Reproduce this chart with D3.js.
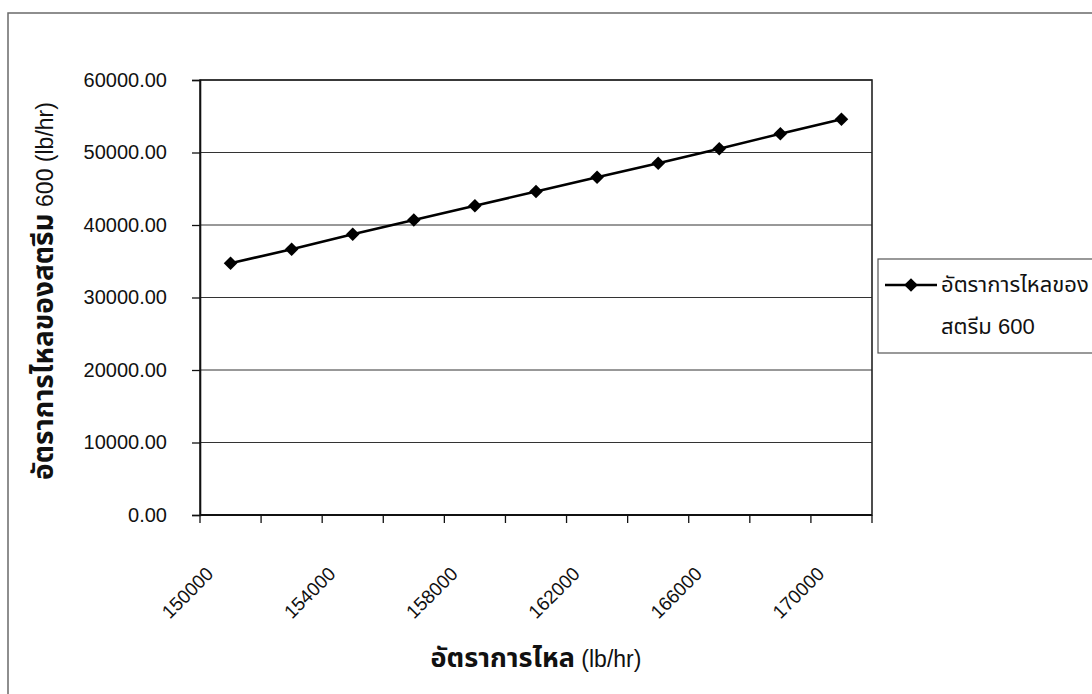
<!DOCTYPE html>
<html>
<head>
<meta charset="utf-8">
<script src="https://cdn.jsdelivr.net/npm/d3@7"></script>
<style>
  html, body { margin: 0; padding: 0; background: #fff; }
  svg { display: block; }
  text { font-family: "Liberation Sans", Arial, "Noto Sans Thai", "Loma", "Garuda", "Tlwg Typo", sans-serif; fill: #111; }
</style>
</head>
<body>
<svg id="chart" width="1092" height="694"></svg>
<script>
// Flow rate of the feed (lb/hr), one category per 2000 lb/hr
const categories = [150000, 152000, 154000, 156000, 158000, 160000, 162000, 164000, 166000, 168000, 170000];
// Flow rate of stream 600 (lb/hr)
const stream600 = [34720, 36650, 38720, 40690, 42660, 44620, 46580, 48510, 50520, 52590, 54580];
// Value-axis ticks
const yTicks = [0, 10000, 20000, 30000, 40000, 50000, 60000];
// Category labels shown on the axis (every other category)
const xTickLabels = [150000, 154000, 158000, 162000, 166000, 170000];

const seriesName = ["อัตราการไหลของ", "สตรีม 600"];

const svg = d3.select("#chart");
const W = 1092, H = 694;
const plot = { left: 200, top: 80, right: 872, bottom: 515 };

// outer chart frame
svg.append("rect")
  .attr("x", 8).attr("y", 13)
  .attr("width", W + 20).attr("height", H + 20)
  .attr("fill", "#fff").attr("stroke", "#6a6a6a").attr("stroke-width", 1.5);

const x = d3.scaleBand().domain(categories).range([plot.left, plot.right]).padding(0);
const y = d3.scaleLinear().domain([0, 60000]).range([plot.bottom, plot.top]);

// horizontal gridlines
svg.append("g")
  .selectAll("line")
  .data(yTicks)
  .join("line")
  .attr("x1", plot.left).attr("x2", plot.right)
  .attr("y1", d => y(d)).attr("y2", d => y(d))
  .attr("stroke", "#333").attr("stroke-width", 1);

// plot area border
svg.append("rect")
  .attr("x", plot.left).attr("y", plot.top)
  .attr("width", plot.right - plot.left).attr("height", plot.bottom - plot.top)
  .attr("fill", "none").attr("stroke", "#222").attr("stroke-width", 1.6);

// value axis
const yAxis = d3.axisLeft(y)
  .tickValues(yTicks)
  .tickFormat(d3.format(".2f"))
  .tickSize(8)
  .tickPadding(25);
const yg = svg.append("g").attr("transform", `translate(${plot.left},0)`).call(yAxis);
yg.select(".domain").attr("stroke", "#111").attr("stroke-width", 1.6);
yg.selectAll(".tick line").attr("stroke", "#111").attr("stroke-width", 1.3);
yg.selectAll(".tick text")
  .style("font-size", "20px")
  .attr("fill", "#222");

// category axis: tick marks on band boundaries
const boundaries = categories.map(c => x(c)).concat([x(categories[categories.length - 1]) + x.bandwidth()]);
svg.append("line")
  .attr("x1", plot.left).attr("x2", plot.right)
  .attr("y1", plot.bottom).attr("y2", plot.bottom)
  .attr("stroke", "#111").attr("stroke-width", 1.8);
svg.append("g")
  .selectAll("line")
  .data(boundaries)
  .join("line")
  .attr("x1", d => d).attr("x2", d => d)
  .attr("y1", plot.bottom).attr("y2", plot.bottom + 8)
  .attr("stroke", "#111").attr("stroke-width", 1.3);

// rotated category labels
svg.append("g")
  .selectAll("text")
  .data(xTickLabels)
  .join("text")
  .attr("transform", d => `translate(${x(d) + x.bandwidth() / 2 - 16},${plot.bottom + 60}) rotate(-45)`)
  .attr("text-anchor", "end")
  .style("font-size", "19px")
  .attr("fill", "#222")
  .text(d => d);

// series line and diamond markers
const line = d3.line()
  .x((d, i) => x(categories[i]) + x.bandwidth() / 2)
  .y(d => y(d));
svg.append("path")
  .datum(stream600)
  .attr("d", line)
  .attr("fill", "none").attr("stroke", "#000").attr("stroke-width", 2.6);

const diamond = d3.symbol().type(d3.symbolDiamond2).size(118);
svg.append("g")
  .selectAll("path")
  .data(stream600)
  .join("path")
  .attr("transform", (d, i) => `translate(${x(categories[i]) + x.bandwidth() / 2},${y(d)})`)
  .attr("d", diamond)
  .attr("fill", "#000");

// axis titles
const yTitle = svg.append("text")
  .attr("transform", `translate(53,291) rotate(-90)`)
  .attr("text-anchor", "middle");
yTitle.append("tspan").style("font-weight", "bold").style("font-size", "28px").text("อัตราการไหลของสตรีม");
yTitle.append("tspan").style("font-size", "23px").text(" 600 (lb/hr)");

const xTitle = svg.append("text")
  .attr("x", (plot.left + plot.right) / 2)
  .attr("y", 667)
  .attr("text-anchor", "middle");
xTitle.append("tspan").style("font-weight", "bold").style("font-size", "27px").text("อัตราการไหล");
xTitle.append("tspan").style("font-size", "23px").text(" (lb/hr)");

// legend (box runs past the right edge of the chart)
const lg = svg.append("g").attr("transform", "translate(878,259)");
lg.append("rect")
  .attr("width", 260).attr("height", 94)
  .attr("fill", "#fff").attr("stroke", "#555").attr("stroke-width", 1.2);
lg.append("line")
  .attr("x1", 7).attr("x2", 59).attr("y1", 26).attr("y2", 26)
  .attr("stroke", "#000").attr("stroke-width", 2.6);
lg.append("path")
  .attr("transform", "translate(33,26)")
  .attr("d", diamond)
  .attr("fill", "#000");
lg.selectAll("text.lab")
  .data(seriesName)
  .join("text")
  .attr("class", "lab")
  .attr("x", 63)
  .attr("y", (d, i) => 33 + i * 42)
  .style("font-size", "22px")
  .text(d => d);
</script>
</body>
</html>
